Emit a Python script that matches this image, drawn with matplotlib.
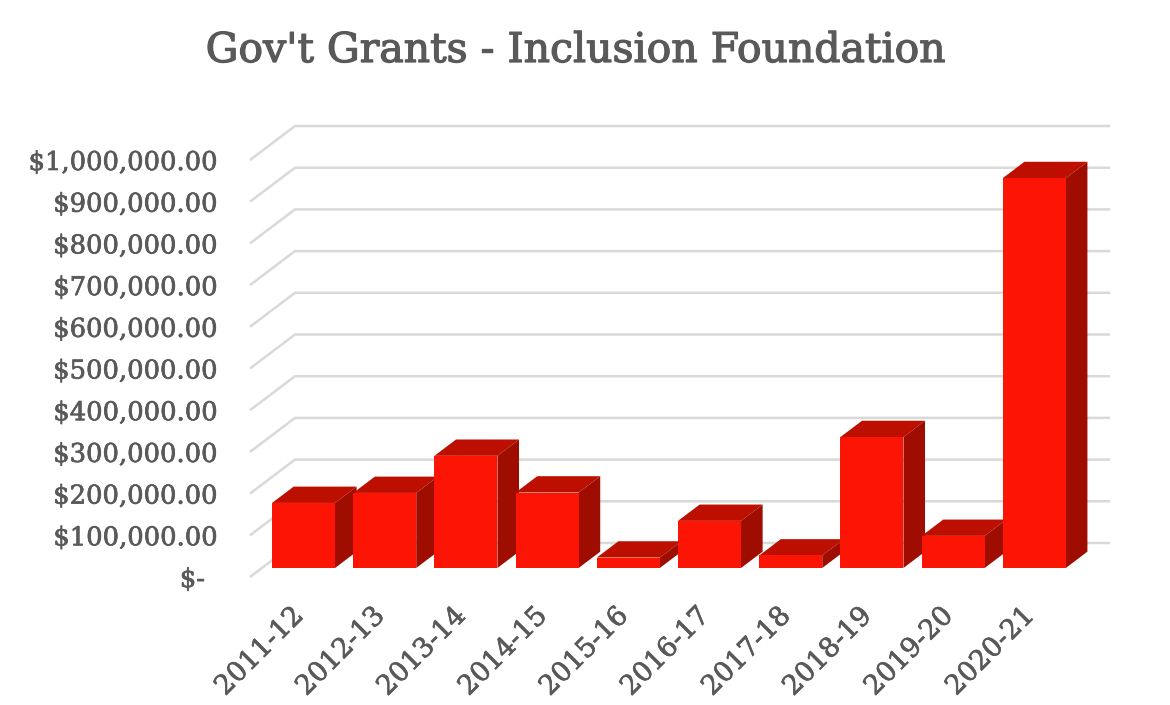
import matplotlib
matplotlib.use("Agg")
import matplotlib.pyplot as plt
import matplotlib.patheffects as pe
from matplotlib.patches import Polygon
from matplotlib.transforms import Affine2D

categories = ["2011-12", "2012-13", "2013-14", "2014-15", "2015-16",
              "2016-17", "2017-18", "2018-19", "2019-20", "2020-21"]
grants = [156000, 180000, 269000, 181000, 25000, 113000, 30000, 314000, 77000, 935000]
axis_values = list(range(0, 1000001, 100000))
axis_labels = ["$-"] + [f"${v:,.2f}" for v in axis_values[1:]]
title = "Gov't Grants - Inclusion Foundation"

W, H = 1170, 705
FONT = "DejaVu Serif"
TEXT = "#595959"
GRID = "#d9d9d9"
FRONT, TOP, SIDE = "#fc1405", "#bd0f00", "#9f0c00"

fig = plt.figure(figsize=(W / 100, H / 100), dpi=100, facecolor="white")
left, right, bottom, top = 250, 1062, 577, 160
pitch = (right - left) / 10
ax = fig.add_axes([left / W, 1 - bottom / H, (right - left) / W, (bottom - top) / H])
ax.set_xlim(-0.5, 9.5)
ax.set_ylim(0, 1000000)
ax.patch.set_alpha(0)
for s in ax.spines.values():
    s.set_visible(False)

# depth vector of the 3D floor, in data units
DX = 45 / pitch
DY = 34 / 417 * 1e6
x0, x1 = ax.get_xlim()
grid_end = x1 + DX + 3 / pitch

for v in axis_values:
    ax.plot([x0, x0 + DX, grid_end], [v, v + DY, v + DY], color=GRID, lw=1.8,
            clip_on=False, zorder=1, solid_capstyle="butt", solid_joinstyle="round")


def proj(x, v, d):
    return (x + DX * d, v + DY * d)


BAR = 63 / pitch
NUDGE = 1 / pitch
D0, D1 = 0.265, 0.745
for i, val in enumerate(grants):
    xa, xb = i - BAR / 2 + NUDGE, i + BAR / 2 + NUDGE
    z = 3 + i
    ax.add_patch(Polygon([proj(xa, val, D0), proj(xb, val, D0), proj(xb, val, D1), proj(xa, val, D1)],
                         closed=True, fc=TOP, ec="none", clip_on=False, zorder=z))
    ax.add_patch(Polygon([proj(xb, 0, D0), proj(xb, 0, D1), proj(xb, val, D1), proj(xb, val, D0)],
                         closed=True, fc=SIDE, ec="none", clip_on=False, zorder=z))
    ax.add_patch(Polygon([proj(xa, 0, D0), proj(xb, 0, D0), proj(xb, val, D0), proj(xa, val, D0)],
                         closed=True, fc=FRONT, ec="none", clip_on=False, zorder=z))

heavy = [pe.withStroke(linewidth=0.5, foreground=TEXT)]
ax.set_yticks(axis_values)
ax.set_yticklabels(axis_labels, fontfamily=FONT, fontsize=18.6, color=TEXT, path_effects=heavy)
ax.tick_params(axis="y", length=0, pad=23)
ax.set_xticks([i - 0.01 for i in range(len(categories))])
ax.set_xticklabels(categories, fontfamily=FONT, fontsize=19.5, color=TEXT, path_effects=heavy,
                   rotation=45, ha="right", rotation_mode="anchor")
ax.tick_params(axis="x", length=0, pad=18)

# The "$-" label sits further left than the others, as in accounting formats.
zero_label = ax.get_yticklabels()[0]
zero_label.set_transform(zero_label.get_transform() + Affine2D().translate(-13, 0))

fig.text(575 / W, 1 - 51 / H, title, ha="center", va="center", fontfamily=FONT,
         fontsize=29.5, color=TEXT, path_effects=[pe.withStroke(linewidth=0.9, foreground=TEXT)])

fig.savefig("out.png", dpi=100)
